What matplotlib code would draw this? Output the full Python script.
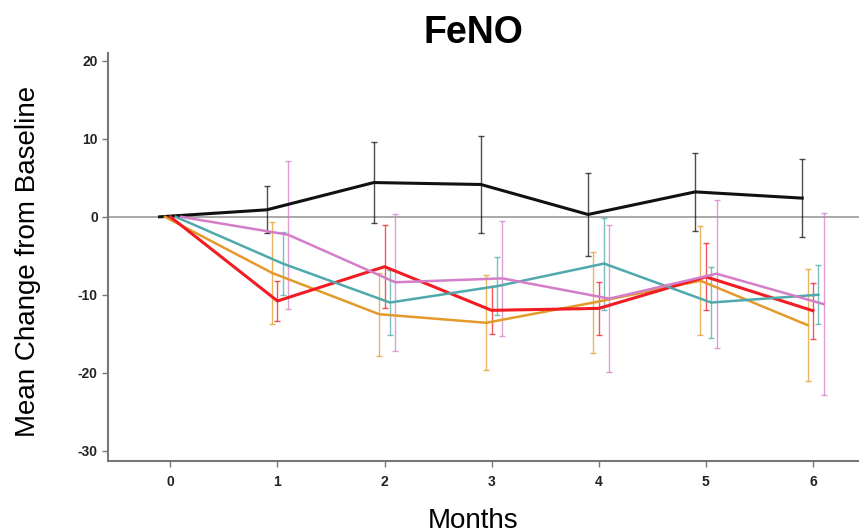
"""
FeNO mean change from baseline by month, one line per treatment group.
"""
import matplotlib.pyplot as plt
import numpy as np

plt.rcParams["font.family"] = ["Liberation Sans", "DejaVu Sans"]
plt.rcParams["axes.unicode_minus"] = False

months = [0, 1, 2, 3, 4, 5, 6]

black_mean = [0, 0.9, 4.4, 4.15, 0.3, 3.2, 2.4]
black_err = [0, 3.0, 5.2, 6.2, 5.35, 5.0, 5.0]

orange_mean = [0, -7.2, -12.5, -13.6, -11.0, -8.2, -13.9]
orange_err = [0, 6.6, 5.3, 6.1, 6.5, 7.0, 7.2]

red_mean = [0, -10.8, -6.4, -12.0, -11.75, -7.7, -12.05]
red_err = [0, 2.6, 5.3, 3.1, 3.4, 4.3, 3.6]

cyan_mean = [0, -6.0, -11.0, -8.9, -6.0, -11.0, -10.0]
cyan_err = [0, 4.0, 4.2, 3.7, 5.9, 4.5, 3.8]

pink_mean = [0, -2.3, -8.4, -7.9, -10.5, -7.3, -11.2]
pink_err = [0, 9.5, 8.8, 7.4, 9.4, 9.5, 11.7]

groups = [
    (black_mean, black_err, "#111111", -0.10, 2.2),
    (orange_mean, orange_err, "#E39A2B", -0.05, 1.8),
    (red_mean, red_err, "#F21D24", 0.0, 2.2),
    (cyan_mean, cyan_err, "#4FA9AC", 0.05, 1.8),
    (pink_mean, pink_err, "#D47DC8", 0.10, 1.8),
]

fig = plt.figure(figsize=(8.59, 5.32), dpi=100)
ax = fig.add_axes([0.126, 0.134, 0.874, 0.766])

ax.axhline(0, color="#9a9a9a", lw=1.2, zorder=1)

x = np.array(months, dtype=float)
for mean, err, color, dx, lw in groups:
    xs = x + dx
    ax.plot(xs, mean, color=color, lw=lw, zorder=3)
    ax.errorbar(xs[1:], mean[1:], yerr=err[1:], fmt="none", ecolor=color,
                elinewidth=1.0, capsize=2, capthick=1.0, alpha=0.75, zorder=2)

ax.set_xlim(-0.58, 6.43)
ax.set_ylim(-31.3, 21)
ax.set_xticks(months)
ax.set_yticks([-30, -20, -10, 0, 10, 20])

for side in ("top", "right"):
    ax.spines[side].set_visible(False)
for side in ("left", "bottom"):
    ax.spines[side].set_color("#777777")
    ax.spines[side].set_linewidth(1.5)

ax.tick_params(colors="#777777", labelcolor="#222222", length=4, width=1,
               labelsize=10)
for lbl in ax.get_xticklabels() + ax.get_yticklabels():
    lbl.set_fontweight("bold")
ax.tick_params(axis="x", pad=6)

ax.set_title("FeNO", fontsize=27, fontweight="bold", pad=7, x=0.486)
ax.set_ylabel("Mean Change from Baseline", fontsize=20)
ax.set_xlabel("Months", fontsize=20)
ax.yaxis.set_label_coords(-0.090, 0.49)
ax.xaxis.set_label_coords(0.486, -0.115)

fig.savefig("out.png", dpi=100)
